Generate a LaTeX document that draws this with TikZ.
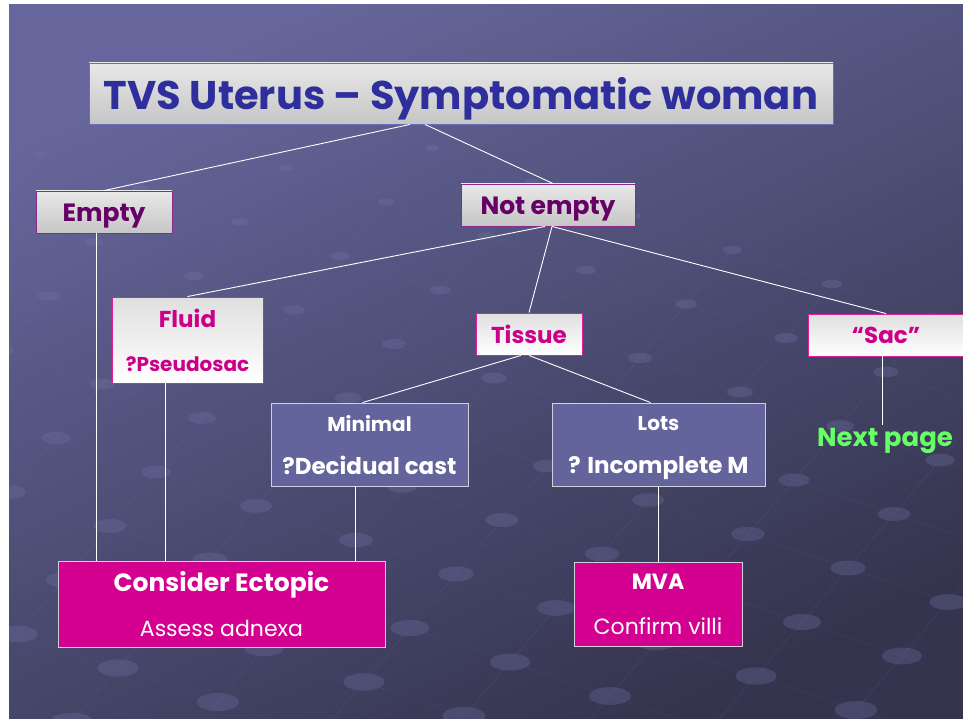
\documentclass[tikz,border=0pt]{standalone}
\usepackage{fontspec}
\setmainfont{Poppins}
\usetikzlibrary{positioning,calc}
\definecolor{slidetop}  {HTML}{66669C}
\definecolor{slidebot}  {HTML}{34344E}
\definecolor{dotcol}    {HTML}{7474AA}
\definecolor{titleblue} {HTML}{2E2E9C}
\definecolor{plum}      {HTML}{660066}
\definecolor{plumline}  {HTML}{8A2A8A}
\definecolor{rosetxt}   {HTML}{CC0088}
\definecolor{roseline}  {HTML}{E0209A}
\definecolor{slate}     {HTML}{64649C}
\definecolor{paleline}  {HTML}{D0D0DC}
\definecolor{magfill}   {HTML}{D4008F}
\definecolor{nextgreen} {HTML}{66FF66}
\tikzset{
  % --- nodes
  box/.style      = {align=center, inner sep=0pt, line width=0.9pt},
  greybox/.style  = {box, draw=plumline, top color=gray!18, bottom color=gray!45,
                     text=plum, font=\fontsize{25}{30}\selectfont\bfseries,
                     text height=20pt, text depth=0pt},
  titlebox/.style = {greybox, draw=titleblue!70, text=titleblue,
                     font=\fontsize{40}{44}\selectfont\bfseries,
                     text height=33pt, text depth=0pt},
  rosebox/.style  = {box, draw=roseline, top color=gray!25, bottom color=white,
                     text=rosetxt, font=\fontsize{23}{44}\selectfont\bfseries},
  slatebox/.style = {box, draw=paleline, fill=slate, text=white,
                     font=\fontsize{20}{43}\selectfont\bfseries},
  magbox/.style   = {box, draw=paleline, fill=magfill, text=white,
                     font=\fontsize{22}{45}\selectfont},
  % --- edges
  link/.style     = {draw=white, line width=0.9pt},
}
\newcommand\lowline[1]{{\fontsize{23}{43}\selectfont\raisebox{0pt}[\height][0pt]{#1}}}
\begin{document}
\begin{tikzpicture}[x=1pt,y=-1pt]
  \useasboundingbox (0,0) rectangle (963,719);
  \fill[white] (0,0) rectangle (963,719);
  \shade[top color=slidetop, bottom color=slidebot, shading angle=25] (9,5) rectangle (963,719);
  % background grid and dots
  \begin{scope}
    \clip (9,140) rectangle (963,719);
    \foreach \i in {-4,...,12}
      \draw[dotcol, opacity=0.18, line width=0.6pt]
        ({-60+\i*100+2*46},{120+\i*34-2*54}) -- ({-60+\i*100-14*46},{120+\i*34+14*54});
    \foreach \j in {-2,...,14}
      \draw[dotcol, opacity=0.12, line width=0.6pt]
        ({-60-4*100-\j*46},{120-4*34+\j*54}) -- ({-60+12*100-\j*46},{120+12*34+\j*54});
    \foreach \i in {-4,...,12}
      \foreach \j in {-2,...,14} {
        \pgfmathsetmacro{\px}{-60+\i*100-\j*46}
        \pgfmathsetmacro{\py}{120+\i*34+\j*54}
        \pgfmathsetmacro{\rx}{3+0.026*\py}
        \fill[dotcol, opacity=0.3] (\px,\py) ellipse [x radius=\rx, y radius=0.42*\rx];
      }
  \end{scope}

  \node[titlebox, minimum width=744, minimum height=61] (title) at (461,93.5)
    {TVS Uterus -- Symptomatic woman};
  \node[greybox, minimum width=136, minimum height=42] (empty) at (104,212) {Empty};
  \node[greybox, minimum width=174, minimum height=42] (notempty) at (548,205) {Not empty};
  \node[rosebox, minimum width=151, minimum height=86] (fluid) at (187.5,340)
    {Fluid\\\fontsize{20}{44}\selectfont ?Pseudosac};
  \node[rosebox, minimum width=106, minimum height=42] (tissue) at (529,334) {Tissue};
  \node[rosebox, minimum width=156, minimum height=42] (sac) at (886,335) {“Sac”};
  \node[slatebox, minimum width=197, minimum height=83] (minimal) at (369.5,444.5)
    {Minimal\\\lowline{?Decidual cast}};
  \node[slatebox, minimum width=213, minimum height=83] (lots) at (658.5,444.5)
    {Lots\\\lowline{? Incomplete M}};
  \node[text=nextgreen, font=\fontsize{26}{30}\selectfont\bfseries] (next) at (885,441) {Next page};
  \node[magbox, minimum width=327, minimum height=86] (ectopic) at (221.5,604)
    {\fontsize{25}{45}\selectfont\bfseries Consider Ectopic\\Assess adnexa};
  \node[magbox, minimum width=168, minimum height=84] (mva) at (658,604)
    {\bfseries MVA\\Confirm villi};

  \draw[link] ([xshift=-51]title.south) -- (empty.north);
  \draw[link] ([xshift=-36]title.south) -- ([xshift=5]notempty.north);
  \draw[link] ([xshift=-3]notempty.south) -- (fluid.north);
  \foreach \k in {tissue,sac}
    \draw[link] ([xshift=4]notempty.south) -- (\k.north);
  \draw[link] ([xshift=-8]tissue.south) -- ([xshift=-7]minimal.north);
  \draw[link] (tissue.south) -- ([xshift=-8]lots.north);
  \draw[link] ([xshift=-4]sac.south) -- ([xshift=-3]next.north);
  \draw[link] ([xshift=-8]empty.south) -- ([xshift=-8]empty.south |- ectopic.north);
  \draw[link] ([xshift=-22]fluid.south) -- ([xshift=-22]fluid.south |- ectopic.north);
  \draw[link] ([xshift=-14]minimal.south) -- ([xshift=-14]minimal.south |- ectopic.north);
  \draw[link] (lots.south) -- (lots.south |- mva.north);
\end{tikzpicture}
\end{document}
